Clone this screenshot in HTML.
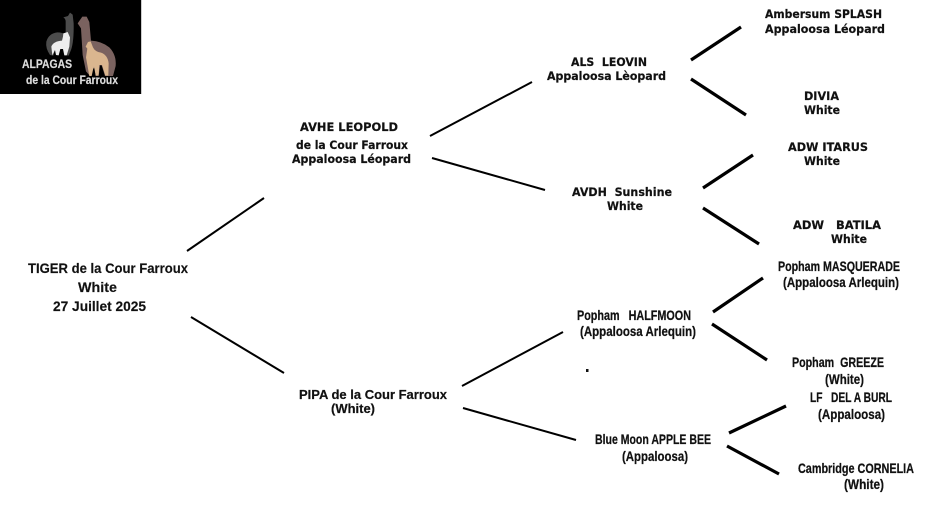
<!DOCTYPE html>
<html lang="fr">
<head>
<meta charset="utf-8">
<title>TIGER de la Cour Farroux</title>
<style>
html,body{margin:0;padding:0;background:#fff;width:940px;height:516px;overflow:hidden}
svg{display:block}
.l{stroke:#000;fill:none;stroke-linecap:butt}
text{font-weight:700;fill:#111;white-space:pre}
.v{font-family:"DejaVu Sans","Liberation Sans",sans-serif;font-size:11.5px;stroke:#111;stroke-width:.2}
.a{font-family:"Liberation Sans",sans-serif;font-size:14px;stroke:#111;stroke-width:.25}
.p{font-family:"Liberation Sans",sans-serif;font-size:12.5px;stroke:#111;stroke-width:.2}
.c{font-family:"Liberation Sans",sans-serif;font-size:14px;stroke:#111;stroke-width:.15}
.w{font-family:"Liberation Sans",sans-serif;font-size:11.5px;fill:#dcdcdc;stroke:#dcdcdc;stroke-width:.2}
</style>
</head>
<body>
<svg width="940" height="516" viewBox="0 0 940 516" xmlns="http://www.w3.org/2000/svg">
<rect width="940" height="516" fill="#fff"/>

<!-- logo -->
<rect x="0" y="0" width="141" height="94" fill="#000"/>
<rect x="141" y="0" width="1" height="94" fill="#ccc"/>
<g transform="scale(0.3333)">
  <path d="M210 38 L218 44 L221 70 Q222 125 213 150 L206 167 L196 165 L190 130 L170 130 L160 167 L150 165 Q136 145 139 125 Q146 100 172 97 Q188 97 197 104 L197 65 Q197 56 190 52 L204 48 Z" fill="#4c4c4c"/>
  <path d="M190 100 L203 96 L210 112 L208 140 L200 166 L193 166 L189 147 L181 147 L176 166 L168 165 L165 150 L157 166 L154 140 Q160 124 186 122 L189 110 Z" fill="#eeeeee"/>
  <path d="M247 50 L260 50 L268 66 L273 122 Q305 124 328 142 Q350 165 347 198 L339 228 L300 228 L270 228 L258 214 L248 165 L243 85 L233 70 Z" fill="#7a625f"/>
  <path d="M264 126 L272 124 L279 142 Q285 155 303 158 Q323 165 326 190 L325 227 L316 227 L306 195 L298 195 L296 226 L287 227 L282 200 L276 228 L268 228 L258 172 L262 146 L257 140 Z" fill="#dab68f"/>
  <path d="M300 196 L305 196 L315 228 L296 228 Z" fill="#000"/>
  <path d="M270 228 L275 228 L280 205 L283 205 L287 228 Z" fill="#000"/>
</g>
<text class="w" x="22" y="68" textLength="50" lengthAdjust="spacingAndGlyphs" style="font-size:12px">ALPAGAS</text>
<text class="w" x="26" y="84" textLength="92" lengthAdjust="spacingAndGlyphs" style="font-size:12px">de la Cour Farroux</text>

<!-- connectors -->
<line class="l" stroke-width="2" x1="187" y1="251" x2="264" y2="198"/>
<line class="l" stroke-width="2" x1="191" y1="317" x2="284" y2="373"/>
<line class="l" stroke-width="2" x1="430" y1="136" x2="532" y2="82"/>
<line class="l" stroke-width="2" x1="432" y1="158" x2="545" y2="190"/>
<line class="l" stroke-width="2" x1="462" y1="386" x2="563" y2="332"/>
<line class="l" stroke-width="2" x1="463" y1="408" x2="576" y2="440"/>
<line class="l" stroke-width="3.2" x1="691" y1="60" x2="741" y2="27"/>
<line class="l" stroke-width="3.2" x1="691" y1="79" x2="746" y2="115"/>
<line class="l" stroke-width="3.2" x1="703" y1="188" x2="753" y2="155"/>
<line class="l" stroke-width="3.2" x1="703" y1="208" x2="759" y2="244"/>
<line class="l" stroke-width="3.2" x1="713" y1="312" x2="763" y2="278"/>
<line class="l" stroke-width="3.2" x1="712" y1="324" x2="767" y2="360"/>
<line class="l" stroke-width="3.2" x1="729" y1="433" x2="786" y2="406"/>
<line class="l" stroke-width="3.2" x1="727" y1="446" x2="779" y2="474"/>
<rect x="586" y="369" width="2.5" height="3" fill="#111"/>

<!-- root -->
<text class="c" x="28" y="273" textLength="160" lengthAdjust="spacingAndGlyphs">TIGER de la Cour Farroux</text>
<text class="c" x="78" y="292" textLength="39" lengthAdjust="spacingAndGlyphs">White</text>
<text class="c" x="53" y="311" textLength="93" lengthAdjust="spacingAndGlyphs">27 Juillet 2025</text>

<!-- parents -->
<text class="v" x="300" y="131" textLength="98" lengthAdjust="spacingAndGlyphs">AVHE LEOPOLD</text>
<text class="v" x="296" y="149" textLength="112" lengthAdjust="spacingAndGlyphs">de la Cour Farroux</text>
<text class="v" x="292" y="163" textLength="119" lengthAdjust="spacingAndGlyphs">Appaloosa Léopard</text>
<text class="p" x="299" y="399" textLength="148" lengthAdjust="spacingAndGlyphs">PIPA de la Cour Farroux</text>
<text class="p" x="331" y="413" textLength="44" lengthAdjust="spacingAndGlyphs">(White)</text>

<!-- grandparents -->
<text class="v" x="571" y="66" textLength="76" lengthAdjust="spacingAndGlyphs">ALS  LEOVIN</text>
<text class="v" x="547" y="80" textLength="119" lengthAdjust="spacingAndGlyphs">Appaloosa Lèopard</text>
<text class="v" x="572" y="196" textLength="100" lengthAdjust="spacingAndGlyphs">AVDH  Sunshine</text>
<text class="v" x="607" y="210" textLength="36" lengthAdjust="spacingAndGlyphs">White</text>
<text class="a" x="577" y="320" textLength="114" lengthAdjust="spacingAndGlyphs">Popham   HALFMOON</text>
<text class="a" x="580" y="336" textLength="116" lengthAdjust="spacingAndGlyphs">(Appaloosa Arlequin)</text>
<text class="a" x="595" y="444" textLength="116" lengthAdjust="spacingAndGlyphs">Blue Moon APPLE BEE</text>
<text class="a" x="622" y="461" textLength="66" lengthAdjust="spacingAndGlyphs">(Appaloosa)</text>

<!-- great-grandparents -->
<text class="v" x="765" y="18" textLength="117" lengthAdjust="spacingAndGlyphs">Ambersum SPLASH</text>
<text class="v" x="765" y="33" textLength="120" lengthAdjust="spacingAndGlyphs">Appaloosa Léopard</text>
<text class="v" x="804" y="100" textLength="35" lengthAdjust="spacingAndGlyphs">DIVIA</text>
<text class="v" x="804" y="114" textLength="36" lengthAdjust="spacingAndGlyphs">White</text>
<text class="v" x="788" y="151" textLength="80" lengthAdjust="spacingAndGlyphs">ADW ITARUS</text>
<text class="v" x="804" y="165" textLength="36" lengthAdjust="spacingAndGlyphs">White</text>
<text class="v" x="793" y="229" textLength="88" lengthAdjust="spacingAndGlyphs">ADW   BATILA</text>
<text class="v" x="831" y="243" textLength="36" lengthAdjust="spacingAndGlyphs">White</text>
<text class="a" x="778" y="271" textLength="122" lengthAdjust="spacingAndGlyphs">Popham MASQUERADE</text>
<text class="a" x="783" y="287" textLength="116" lengthAdjust="spacingAndGlyphs">(Appaloosa Arlequin)</text>
<text class="a" x="792" y="367" textLength="92" lengthAdjust="spacingAndGlyphs">Popham  GREEZE</text>
<text class="a" x="825" y="384" textLength="39" lengthAdjust="spacingAndGlyphs">(White)</text>
<text class="a" x="810" y="402" textLength="82" lengthAdjust="spacingAndGlyphs">LF   DEL A BURL</text>
<text class="a" x="818" y="419" textLength="67" lengthAdjust="spacingAndGlyphs">(Appaloosa)</text>
<text class="a" x="798" y="473" textLength="116" lengthAdjust="spacingAndGlyphs">Cambridge CORNELIA</text>
<text class="a" x="844" y="489" textLength="40" lengthAdjust="spacingAndGlyphs">(White)</text>
</svg>
</body>
</html>
